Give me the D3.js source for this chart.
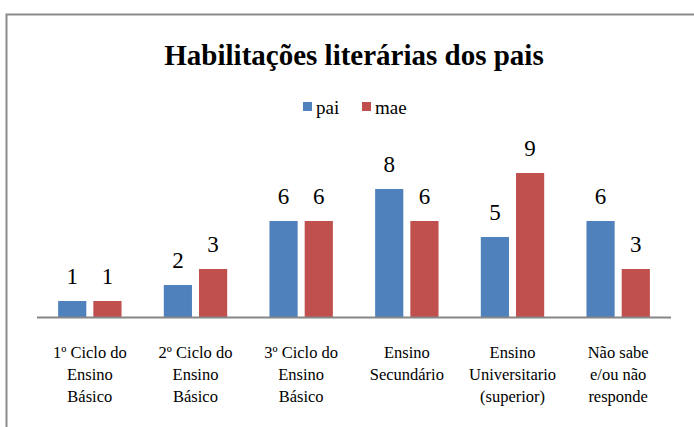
<!DOCTYPE html>
<html>
<head>
<meta charset="utf-8">
<script src="https://cdn.jsdelivr.net/npm/d3@7"></script>
<style>
  html, body { margin: 0; padding: 0; background: #fff; }
</style>
</head>
<body>
<svg id="chart" width="694" height="427" font-family="Liberation Serif">
  <!-- placeholder in the markup so the regular face is loaded at parse time; d3 rebinds it below -->
  <text class="cat" font-family="Liberation Serif" font-size="16.5">Ensino</text>
</svg>
<script>
// category labels, one array of lines per category
const categories = [
  ["1º Ciclo do", "Ensino", "Básico"],
  ["2º Ciclo do", "Ensino", "Básico"],
  ["3º Ciclo do", "Ensino", "Básico"],
  ["Ensino", "Secundário"],
  ["Ensino", "Universitario", "(superior)"],
  ["Não sabe", "e/ou não", "responde"]
];
const seriesNames = ["pai", "mae"];
const paiValues = [1, 2, 6, 8, 5, 6];
const maeValues = [1, 3, 6, 6, 9, 3];
const colors = ["#4F81BD", "#C0504D"];

const FONT = "Liberation Serif";
const svg = d3.select("#chart");
const W = 694, H = 427;

// frame (runs off the right and bottom edge like the screenshot)
svg.insert("rect", ":first-child")
  .attr("x", 6.5).attr("y", 14.5)
  .attr("width", W + 10).attr("height", H + 10)
  .attr("fill", "none")
  .attr("stroke", "#8c8c8c")
  .attr("stroke-width", 2);

// title
svg.append("text")
  .attr("x", 354).attr("y", 65)
  .attr("text-anchor", "middle")
  .attr("font-family", FONT)
  .attr("font-size", 29)
  .attr("font-weight", "bold")
  .text("Habilitações literárias dos pais");

// legend
const legendX = [303, 362];
seriesNames.forEach((name, i) => {
  svg.append("rect")
    .attr("x", legendX[i]).attr("y", 102)
    .attr("width", 9).attr("height", 9)
    .attr("fill", colors[i]);
  svg.append("text")
    .attr("x", legendX[i] + 13).attr("y", 114)
    .attr("font-family", FONT)
    .attr("font-size", 19)
    .text(name);
});

// scales
const plot = { left: 37, right: 671, bottom: 317 };
const x0 = d3.scaleBand()
  .domain(d3.range(categories.length))
  .range([plot.left, plot.right])
  .padding(0);
const bw = x0.bandwidth();
const x1 = d3.scaleBand()
  .domain(seriesNames)
  .range([bw * 0.2, bw * 0.8])
  .paddingInner(0.2);
const y = d3.scaleLinear().domain([0, 10]).range([plot.bottom, plot.bottom - 160]);

// flat list of bars
const bars = [];
categories.forEach((c, i) => {
  bars.push({ i, s: "pai", k: 0, v: paiValues[i] });
  bars.push({ i, s: "mae", k: 1, v: maeValues[i] });
});
const barX = d => x0(d.i) + x1(d.s);

svg.selectAll("rect.bar")
  .data(bars)
  .join("rect")
  .attr("class", "bar")
  .attr("x", barX)
  .attr("y", d => y(d.v))
  .attr("width", x1.bandwidth())
  .attr("height", d => y(0) - y(d.v))
  .attr("fill", d => colors[d.k]);

// value labels
svg.selectAll("text.val")
  .data(bars)
  .join("text")
  .attr("class", "val")
  .attr("x", d => barX(d) + x1.bandwidth() / 2)
  .attr("y", d => y(d.v) - 17)
  .attr("text-anchor", "middle")
  .attr("font-family", FONT)
  .attr("font-size", 23)
  .text(d => d.v);

// axis line
svg.append("line")
  .attr("x1", plot.left).attr("x2", plot.right)
  .attr("y1", plot.bottom + 0.5).attr("y2", plot.bottom + 0.5)
  .attr("stroke", "#868686")
  .attr("stroke-width", 2);

// category labels, one text per line
const catLines = [];
categories.forEach((lines, i) => {
  lines.forEach((t, j) => catLines.push({ i, j, t }));
});
svg.selectAll("text.cat")
  .data(catLines)
  .join("text")
  .attr("class", "cat")
  .attr("text-anchor", "middle")
  .attr("font-family", FONT)
  .attr("font-size", 16.5)
  .attr("x", d => x0(d.i) + bw / 2)
  .attr("y", d => 358 + d.j * 22)
  .text(d => d.t);
</script>
</body>
</html>
